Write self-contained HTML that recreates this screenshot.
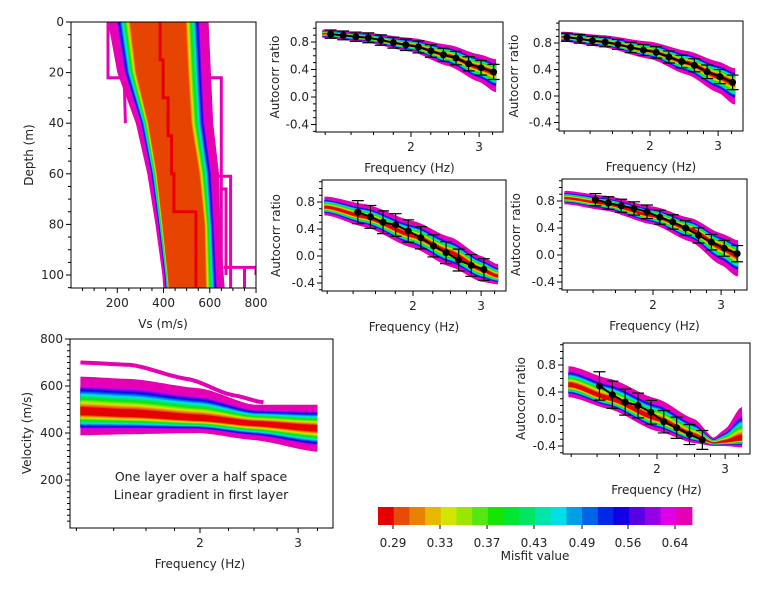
<!DOCTYPE html>
<html><head><meta charset="utf-8"><style>
html,body{margin:0;padding:0;background:#fff;}
svg{display:block;font-family:"DejaVu Sans","Liberation Sans",sans-serif;}
</style></head><body>
<svg id="s" width="770" height="594" viewBox="0 0 770 594" xmlns="http://www.w3.org/2000/svg"></svg>
<script>
var C=['#e60000','#e84a0a','#e88200','#e6b800','#d2e600','#9be600','#55e614','#14e600','#00e632','#00e664','#00e6aa','#00e0e6','#00a0e6','#0064e6','#0028e6','#1400e6','#5a00e6','#9600e6','#e000e6','#e600b4'];
var out=[];var cid=0;
function P(s){out.push(s);}
function G(k){return k==19?1:0.14+0.6*(k/18);}
function GV(k){return k==19?1:0.3+0.45*(k/18);}
function interp(kn,vs,f){var L=Math.log(f);
 if(f<=kn[0])return vs[0]; if(f>=kn[kn.length-1])return vs[vs.length-1];
 for(var i=0;i<kn.length-1;i++){var a=Math.log(kn[i]),b=Math.log(kn[i+1]);
  if(L>=a&&L<=b){var t=(L-a)/(b-a);t=t*t*(3-2*t)*0.5+t*0.5;return vs[i]+(vs[i+1]-vs[i])*t;}}
 return vs[0];}
function txt(x,y,s,anchor,size,rot){P('<text x="'+x+'" y="'+y+'" font-size="'+(size||12)+'" text-anchor="'+(anchor||'middle')+'" fill="#222"'+(rot?' transform="rotate(-90 '+x+' '+y+')"':'')+'>'+s+'</text>');}
function bands(xf,yv,kn,up,c,lo,fmin,fmax){
 var N=60,fs=[];for(var i=0;i<=N;i++)fs.push(fmin*Math.pow(fmax/fmin,i/N));
 for(var k=19;k>=0;k--){var g=G(k);
  var pts=[];
  fs.forEach(function(f){var cc=interp(kn,c,f);pts.push(xf(f).toFixed(1)+','+yv(cc+(interp(kn,up,f)-cc)*g).toFixed(1));});
  fs.slice().reverse().forEach(function(f){var cc=interp(kn,c,f);pts.push(xf(f).toFixed(1)+','+yv(cc+(interp(kn,lo,f)-cc)*g).toFixed(1));});
  P('<polygon points="'+pts.join(' ')+'" fill="'+C[k]+'"/>');}
}
function acf(o){
 var xf=function(f){return o.x2+168*Math.log(f/2);};
 var s=(o.yZero-o.y08)/0.8;var yv=function(v){return o.yZero-v*s;};
 cid++;P('<clipPath id="c'+cid+'"><rect x="'+o.x0+'" y="'+o.y0+'" width="'+(o.x1-o.x0)+'" height="'+(o.y1-o.y0)+'"/></clipPath><g clip-path="url(#c'+cid+')">');
 bands(xf,yv,o.kn,o.up,o.c,o.lo,o.fmin||1.18,o.fmax||3.32);
 var pts=o.pts;var line=pts.map(function(p){return xf(p[0]).toFixed(1)+','+yv(p[1]).toFixed(1);}).join(' ');
 P('<polyline points="'+line+'" fill="none" stroke="#000" stroke-width="2"/>');
 pts.forEach(function(p){var x=xf(p[0]),a=yv(p[1]+p[2]),b=yv(p[1]-p[2]);
  P('<path d="M'+x+' '+a+'V'+b+'M'+(x-6)+' '+a+'h12M'+(x-6)+' '+b+'h12" stroke="#000" stroke-width="1.2"/>');
  P('<circle cx="'+x+'" cy="'+yv(p[1])+'" r="3.5" fill="#000"/>');});
 P('</g>');
 P('<rect x="'+o.x0+'" y="'+o.y0+'" width="'+(o.x1-o.x0)+'" height="'+(o.y1-o.y0)+'" fill="none" stroke="#000" stroke-width="1"/>');
 for(var v=-0.5;v<=1.15;v+=0.1){var y=yv(v);if(y<o.y0-0.5||y>o.y1+0.5)continue;
  var maj=Math.abs(Math.round(v*10)%4)==0;P('<line x1="'+o.x0+'" x2="'+(o.x0-(maj?5:3))+'" y1="'+y+'" y2="'+y+'" stroke="#000"/>');
  if(maj){var r=Math.round(v*10)/10;txt(o.x0-7,y+4,(r<0?'-':'')+Math.abs(r).toFixed(1),'end',12);}}
 [1.2,1.4,1.6,1.8,2,2.25,2.5,2.75,3,3.25,3.5].forEach(function(f){var x=xf(f);if(x<o.x0||x>o.x1)return;
  var maj=(f==2||f==3);P('<line x1="'+x+'" x2="'+x+'" y1="'+o.y1+'" y2="'+(o.y1+(maj?5:3))+'" stroke="#000"/>');
  if(maj)txt(x,o.y1+19,f,'middle',12);});
 txt(o.ly,(o.y0+o.y1)/2,'Autocorr ratio','middle',12,true);
 txt((o.x0+o.x1)/2,o.y1+40,'Frequency (Hz)','middle',12);
}
function mk(n,f0,f1,cfg,errs,vals){var r=[];for(var i=0;i<n;i++){var f=f0*Math.pow(f1/f0,i/(n-1));r.push([f,vals?vals[i]:interp(cfg.kn,cfg.c,f),errs[0]+(errs[1]-errs[0])*i/(n-1)]);}return r;}
var K=[1.2,1.5,2,2.5,3,3.3];
var p1={x0:316,x1:503,y0:22,y1:132,x2:411,yZero:97,y08:42,kn:K,c:[0.92,0.87,0.75,0.6,0.43,0.36],up:[0.98,0.94,0.86,0.76,0.62,0.55],lo:[0.86,0.8,0.66,0.45,0.22,0.07],ly:279};
p1.pts=mk(14,1.24,3.27,p1,[0.06,0.11]);acf(p1);
var p2={x0:559,x1:743,y0:21,y1:131,x2:650,yZero:96,y08:43,kn:K,c:[0.89,0.82,0.68,0.5,0.3,0.2],up:[0.97,0.92,0.82,0.68,0.52,0.42],lo:[0.82,0.74,0.56,0.32,0.05,-0.13],ly:518};
p2.pts=mk(14,1.22,3.27,p2,[0.06,0.11]);acf(p2);
var p3={x0:322,x1:506,y0:180,y1:291,x2:413,yZero:256,y08:202,kn:K,c:[0.72,0.58,0.3,0.05,-0.2,-0.3],up:[0.88,0.77,0.52,0.28,0.0,-0.12],lo:[0.6,0.43,0.12,-0.16,-0.38,-0.42],ly:280};
p3.pts=mk(11,1.44,3.05,p3,[0.17,0.16],[0.65,0.58,0.5,0.46,0.37,0.27,0.15,0.05,-0.06,-0.14,-0.2]);acf(p3);
var p4={x0:562,x1:747,y0:179,y1:290,x2:653,yZero:255,y08:201,kn:K,c:[0.84,0.76,0.58,0.38,0.12,0.0],up:[0.95,0.88,0.72,0.55,0.32,0.22],lo:[0.75,0.66,0.45,0.2,-0.15,-0.32],ly:520};
p4.pts=mk(12,1.42,3.3,p4,[0.09,0.12],[0.82,0.77,0.73,0.69,0.64,0.56,0.49,0.4,0.29,0.19,0.1,0.02]);acf(p4);
var p5={x0:563,x1:750,y0:343,y1:454,x2:657,yZero:419,y08:365,kn:[1.2,1.5,2,2.5,2.8,3.0,3.3],c:[0.5,0.3,0.0,-0.25,-0.36,-0.34,-0.3],up:[0.78,0.6,0.3,0.0,-0.28,-0.15,0.18],lo:[0.32,0.15,-0.18,-0.36,-0.4,-0.4,-0.42],ly:525};
p5.pts=mk(9,1.42,2.62,p5,[0.21,0.14],[0.49,0.36,0.25,0.2,0.1,-0.04,-0.13,-0.23,-0.31]);acf(p5);

// Vs profile
(function(){var xv=function(v){return 71+v*0.2313;},yd=function(d){return 22+d*2.53;};
 P('<clipPath id="cv"><rect x="71" y="22" width="185" height="266"/></clipPath><g clip-path="url(#cv)">');
 var D=[0,20,40,60,80,100,106];
 var Lo=[160,200,280,330,365,395,400],Ro=[595,605,615,640,645,660,665],Li=[300,320,360,390,410,430,435],Ri=[450,460,475,515,545,545,545];
 for(var k=19;k>=1;k--){var g=GV(k);var pts=[];
  D.forEach(function(d,i){var l=Li[i]+(Lo[i]-Li[i])*g;pts.push(xv(l).toFixed(1)+','+yd(d).toFixed(1));});
  D.slice().reverse().forEach(function(d,j){var i=D.length-1-j;var r=Ri[i]+(Ro[i]-Ri[i])*g;pts.push(xv(r).toFixed(1)+','+yd(d).toFixed(1));});
  P('<polygon points="'+pts.join(' ')+'" fill="'+C[k]+'"/>');}
 var core=[];D.forEach(function(d,i){core.push(xv(Li[i]+(Lo[i]-Li[i])*0.3)+','+yd(d));});D.slice().reverse().forEach(function(d,j){var i=D.length-1-j;core.push(xv(Ri[i]+(Ro[i]-Ri[i])*0.3)+','+yd(d));});
 P('<polygon points="'+core.join(' ')+'" fill="#e64400"/>');
 var st=function(a){return a.map(function(p){return xv(p[0]).toFixed(1)+','+yd(p[1]).toFixed(1);}).join(' ');};
 P('<polyline points="'+st([[385,0],[385,15],[398,15],[398,30],[420,30],[420,45],[435,45],[435,60],[445,60],[445,75],[540,75],[540,106]])+'" fill="none" stroke="#e60000" stroke-width="3"/>');
 var M='fill="none" stroke="#e600b4" stroke-width="3"';
 P('<polyline points="'+st([[160,0],[160,22],[230,22],[235,40]])+'" '+M+'/>');
 P('<polyline points="'+st([[600,22],[650,22],[650,100]])+'" '+M+'/>');
 P('<polyline points="'+st([[640,61],[690,61],[690,106]])+'" '+M+'/>');
 P('<polyline points="'+st([[645,66],[670,66],[670,100]])+'" '+M+'/>');
 P('<polyline points="'+st([[660,97],[800,97],[800,100]])+'" '+M+'/>');
 P('<polyline points="'+st([[750,97],[750,106]])+'" '+M+'/>');
 P('</g><rect x="71" y="22" width="185" height="266" fill="none" stroke="#000"/>');
 for(var d=0;d<=105;d+=5){var y=yd(d);var maj=d%20==0;P('<line x1="71" x2="'+(71-(maj?5:3))+'" y1="'+y+'" y2="'+y+'" stroke="#000"/>');if(maj)txt(64,y+4,d,'end',12);}
 for(var v=50;v<=800;v+=50){var x=xv(v);var maj=v%200==0;P('<line x1="'+x+'" x2="'+x+'" y1="288" y2="'+(288+(maj?5:3))+'" stroke="#000"/>');if(maj)txt(x,307,v,'middle',12);}
 txt(33,155,'Depth (m)','middle',12,true);txt(163,328,'Vs (m/s)','middle',12);
})();

// Velocity dispersion
(function(){var xf=function(f){return 200+242*Math.log(f/2);},yv=function(v){return 527-v*0.235;};
 P('<clipPath id="cd"><rect x="70" y="339" width="263" height="189"/></clipPath><g clip-path="url(#cd)">');
 var kn=[1.22,1.5,2,2.5,3.25];
 bands(xf,yv,kn,[640,630,590,520,520],[490,480,460,440,420],[390,395,400,370,320],1.22,3.25);
 var l=[];for(var i=0;i<=30;i++){var f=1.22*Math.pow(2.6/1.22,i/30);l.push(xf(f).toFixed(1)+','+yv(interp([1.22,1.5,1.9,2.3,2.6],[700,690,630,560,530],f)).toFixed(1));}
 P('<polyline points="'+l.join(' ')+'" fill="none" stroke="#e600b4" stroke-width="4"/>');
 P('</g><rect x="70" y="339" width="263" height="189" fill="none" stroke="#000"/>');
 for(var v=25;v<=800;v+=25){var y=yv(v);if(y<339)continue;var maj=v%200==0;P('<line x1="70" x2="'+(70-(maj?5:3))+'" y1="'+y+'" y2="'+y+'" stroke="#000"/>');if(maj)txt(63,y+4,v,'end',12);}
 [1.2,1.4,1.6,1.8,2,2.25,2.5,2.75,3,3.25,3.5].forEach(function(f){var x=xf(f);if(x<70||x>333)return;var maj=(f==2||f==3);P('<line x1="'+x+'" x2="'+x+'" y1="528" y2="'+(528+(maj?5:3))+'" stroke="#000"/>');if(maj)txt(x,547,f,'middle',12);});
 txt(31,433,'Velocity (m/s)','middle',12,true);txt(200,568,'Frequency (Hz)','middle',12);
 txt(201,481,'One layer over a half space','middle',12.5);txt(201,499,'Linear gradient in first layer','middle',12.5);
})();

// colorbar
(function(){var x0=378,w=314/20;for(var i=0;i<20;i++)P('<rect x="'+(x0+i*w).toFixed(2)+'" y="507" width="'+(w+0.4).toFixed(2)+'" height="18" fill="'+C[i]+'"/>');
 var L=['0.29','0.33','0.37','0.43','0.49','0.56','0.64'],X=[393,440,487,534,582,628,675];
 for(var i=0;i<7;i++){P('<line x1="'+X[i]+'" x2="'+X[i]+'" y1="525" y2="529" stroke="#000"/>');txt(X[i],547,L[i],'middle',12);}
 txt(535,560,'Misfit value','middle',12);
})();
document.getElementById('s').innerHTML=out.join('');
</script>
</body></html>
